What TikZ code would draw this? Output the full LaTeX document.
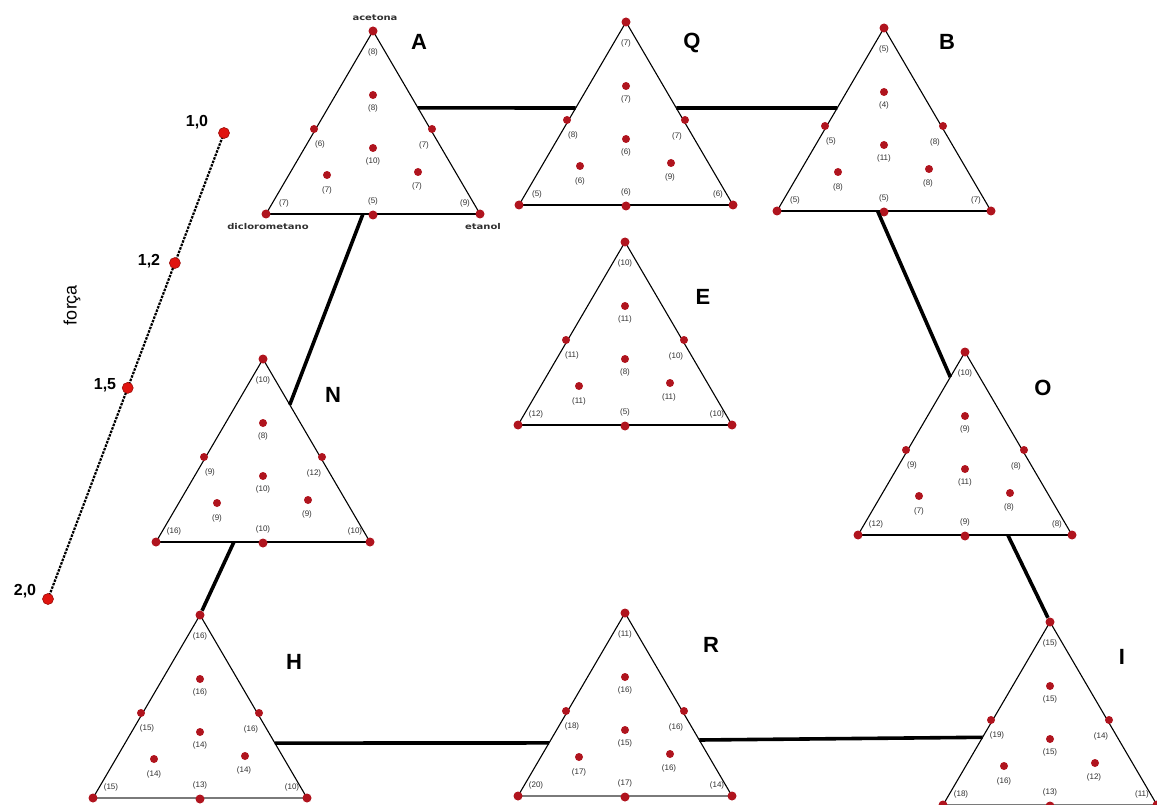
\documentclass[tikz,border=0pt]{standalone}
\usepackage{fontspec}
\usepackage{graphicx}
\setmainfont{Liberation Sans}
\newfontfamily\dejafont{DejaVu Sans}
\usetikzlibrary{calc}
\definecolor{dotred}{HTML}{B0141E}
\definecolor{axred}{HTML}{E0140F}
\definecolor{labgray}{HTML}{303030}
\definecolor{basegray}{HTML}{7A7A7A}
\tikzset{
  triside/.style={line width=1.1pt, draw=black},
  tribase/.style={line width=2.2pt},
  vdot/.style={circle, fill=dotred, inner sep=0pt, minimum size=9pt},
  idot/.style={circle, fill=dotred, inner sep=0pt, minimum size=8pt},
  lab/.style={font=\fontsize{8}{8}\selectfont, text=labgray, inner sep=0pt},
  conn/.style={line width=3.6pt, draw=black},
  bigletter/.style={font=\fontsize{22}{22}\selectfont\bfseries, inner sep=0pt},
  axisline/.style={line width=2.2pt, dash pattern=on 2.5pt off 1.2pt},
  axdot/.style={circle, fill=axred, draw=axred!70!black, line width=0.6pt, inner sep=0pt, minimum size=11pt},
  axlab/.style={font=\fontsize{16}{16}\selectfont\bfseries, inner sep=0pt},
  complab/.style={font=\dejafont\bfseries\fontsize{8}{8}\selectfont, text=labgray, inner sep=0pt},
}
\newcommand{\terntri}[5]{%
\begin{scope}[shift={(#2,#3)}]
  \coordinate (#1-T) at (0,0);
  \coordinate (#1-BL) at (-107,183);
  \coordinate (#1-BR) at (107,183);
  \draw[triside] (#1-BL) -- (#1-T) -- (#1-BR);
  \draw[tribase,draw=#4] (#1-BL) -- (#1-BR);
  \node[vdot] (#1-dT) at (0,0) {};
  \node[vdot] (#1-dBL) at (-107,183) {};
  \node[vdot] (#1-dBM) at (0,184) {};
  \node[vdot] (#1-dBR) at (107,183) {};
  \node[idot] (#1-dEL) at (-59,98) {};
  \node[idot] (#1-dER) at (59,98) {};
  \node[idot] (#1-dIT) at (0,64) {};
  \node[idot] (#1-dC) at (0,117) {};
  \node[idot] (#1-dLL) at (-46,144) {};
  \node[idot] (#1-dLR) at (45,141) {};
  \foreach \t [count=\i] in {#5} {%
    \ifcase\i\or
      \node[lab] (#1-l\i) at (0,21) {\t};\or
      \node[lab] (#1-l\i) at (0,77) {\t};\or
      \node[lab] (#1-l\i) at (-53,113) {\t};\or
      \node[lab] (#1-l\i) at (51,114) {\t};\or
      \node[lab] (#1-l\i) at (0,130) {\t};\or
      \node[lab] (#1-l\i) at (-46,159) {\t};\or
      \node[lab] (#1-l\i) at (44,155) {\t};\or
      \node[lab] (#1-l\i) at (-89,172) {\t};\or
      \node[lab] (#1-l\i) at (0,170) {\t};\or
      \node[lab] (#1-l\i) at (92,172) {\t};\fi
  }
\end{scope}}
\begin{document}
\begin{tikzpicture}[x=1pt,y=-1pt]
\useasboundingbox[fill=white] (0,0) rectangle (1157,805);

% force axis
\coordinate (ax1) at (224,133);
\coordinate (ax4) at (48,599);
\draw[axisline] (ax1) -- (ax4);
\node[axdot] (d10) at (ax1) {};
\node[axdot] (d12) at ($(ax1)!0.279!(ax4)$) {};
\node[axdot] (d15) at ($(ax1)!0.547!(ax4)$) {};
\node[axdot] (d20) at (ax4) {};
\node[axlab] (l10) at (197,122) {1,0};
\node[axlab] (l12) at (149,261) {1,2};
\node[axlab] (l15) at (105,385) {1,5};
\node[axlab] (l20) at (25,591) {2,0};
\node[font=\fontsize{18}{18}\selectfont, rotate=90, inner sep=0pt] (forca) at (72,305) {força};

% triangles
\terntri{A}{373}{31}{black}{(8),(8),(6),(7),(10),(7),(7),(7),(5),(9)}
\terntri{Q}{626}{22}{black}{(7),(7),(8),(7),(6),(6),(9),(5),(6),(6)}
\terntri{B}{884}{28}{black}{(5),(4),(5),(8),(11),(8),(8),(5),(5),(7)}
\terntri{E}{625}{242}{black}{(10),(11),(11),(10),(8),(11),(11),(12),(5),(10)}
\terntri{N}{263}{359}{black}{(10),(8),(9),(12),(10),(9),(9),(16),(10),(10)}
\terntri{O}{965}{352}{black}{(10),(9),(9),(8),(11),(7),(8),(12),(9),(8)}
\terntri{H}{200}{615}{basegray}{(16),(16),(15),(16),(14),(14),(14),(15),(13),(10)}
\terntri{R}{625}{613}{basegray}{(11),(16),(18),(16),(15),(17),(16),(20),(17),(14)}
\terntri{I}{1050}{622}{basegray}{(15),(15),(19),(14),(15),(16),(12),(18),(13),(11)}

% component names on A
\node[complab] (acet) at (375,18) {\scalebox{1.25}[1]{acetona}};
\node[complab] (diclo) at (268,227) {\scalebox{1.25}[1]{diclorometano}};
\node[complab] (etan) at (483,227) {\scalebox{1.25}[1]{etanol}};

% letters
\node[bigletter] (nA) at (419,42) {A};
\node[bigletter] (nQ) at (692,43) {Q};
\node[bigletter] (nB) at (947,42) {B};
\node[bigletter] (nE) at (703,297) {E};
\node[bigletter] (nN) at (333,395) {N};
\node[bigletter] (nO) at (1043,388) {O};
\node[bigletter] (nH) at (294,662) {H};
\node[bigletter] (nR) at (711,645) {R};
\node[bigletter] (nI) at (1122,657) {I};

% connector end points
\coordinate (cAQ1) at ($(A-T)!0.42!(A-BR)$);
\coordinate (cAQ2) at ($(Q-T)!0.47!(Q-BL)$);
\coordinate (cQB1) at ($(Q-T)!0.47!(Q-BR)$);
\coordinate (cQB2) at ($(B-T)!0.437!(B-BL)$);
\coordinate (cAN1) at ($(A-BL)!0.453!(A-BR)$);
\coordinate (cAN2) at ($(N-T)!0.25!(N-BR)$);
\coordinate (cBO1) at ($(B-BL)!0.47!(B-BR)$);
\coordinate (cBO2) at ($(O-T)!0.137!(O-BL)$);
\coordinate (cNH1) at ($(N-BL)!0.364!(N-BR)$);
\coordinate (cOI1) at ($(O-BL)!0.70!(O-BR)$);
\coordinate (cHR1) at ($(H-T)!0.70!(H-BR)$);
\coordinate (cHR2) at ($(R-T)!0.71!(R-BL)$);
\coordinate (cRI1) at ($(R-T)!0.694!(R-BR)$);
\coordinate (cRI2) at ($(I-T)!0.63!(I-BL)$);

\draw[conn] (cAQ1) -- (cAQ2);
\draw[conn] (cQB1) -- (cQB2);
\draw[conn] (cAN1) -- (cAN2);
\draw[conn] (cBO1) -- (cBO2);
\draw[conn] (cNH1) -- (H-dT);
\draw[conn] (cOI1) -- (I-dT);
\draw[conn] (cHR1) -- (cHR2);
\draw[conn] (cRI1) -- (cRI2);
\end{tikzpicture}
\end{document}
